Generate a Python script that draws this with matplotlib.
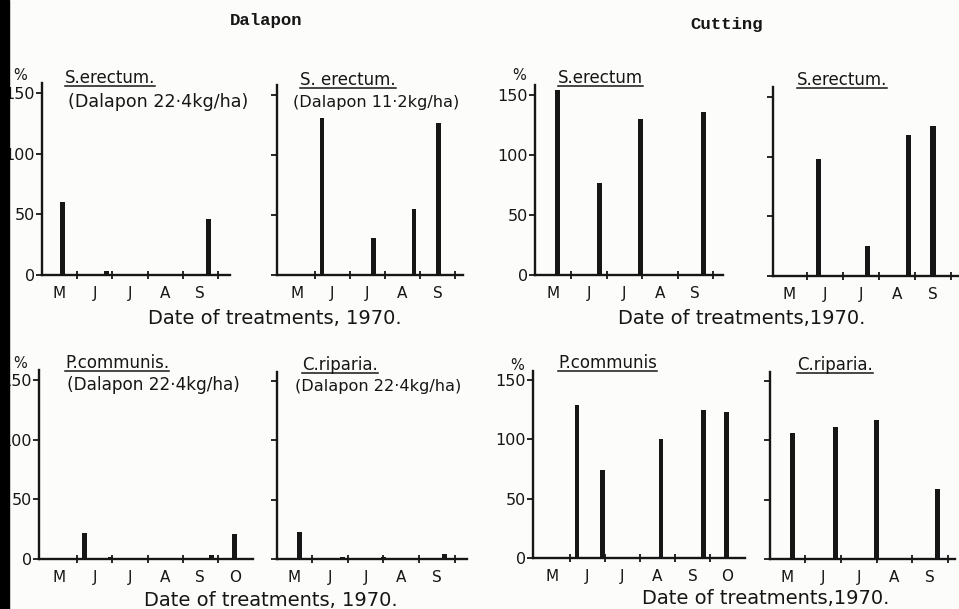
import matplotlib
matplotlib.use("Agg")
import matplotlib.pyplot as plt
from matplotlib.lines import Line2D
from matplotlib.patches import Rectangle

W, H = 959, 609

months5 = ["M", "J", "J", "A", "S"]
months6 = ["M", "J", "J", "A", "S", "O"]
y_ticks = [0, 50, 100, 150]

# treatment dates, in months counted from 1 May 1970
dates_se_dal22 = [0.60, 1.85, 2.99, 4.72]
growth_se_dal22 = [60, 3, 1, 46]
dates_se_dal11 = [1.20, 2.66, 3.83, 4.54]
growth_se_dal11 = [131, 31, 55, 127]
dates_se_cut1 = [0.63, 1.79, 2.97, 4.72]
growth_se_cut1 = [154, 77, 130, 136]
dates_se_cut2 = [1.31, 2.67, 3.83, 4.50]
growth_se_cut2 = [98, 25, 118, 126]
dates_pc = [1.20, 1.94, 3.60, 4.82, 5.47]
growth_pc_dal = [22, 2, 1, 3, 21]
growth_pc_cut = [129, 74, 100, 125, 123]
dates_cr = [0.64, 1.84, 2.99, 4.72]
growth_cr_dal = [23, 2, 2, 4]
growth_cr_cut = [106, 111, 117, 59]

INK = "#161616"
SANS = "DejaVu Sans"

fig = plt.figure(figsize=(W / 100, H / 100), dpi=100, facecolor="#fcfcfa")


def panel(geom, dates, values, months, ylabels):
    # geom: axis left px, first tick px, tick spacing px, axis right px,
    #       zero line px, px of the 150 level
    x0, t1, s, xe, y0, y150 = geom
    scale = (y0 - y150) / 150.0
    ytop = 158
    ax = fig.add_axes([x0 / W, (H - y0) / H, (xe - x0) / W, ytop * scale / H])
    ax.set_facecolor("none")
    ax.set_xlim((x0 - t1) / s + 1, (xe - t1) / s + 1)
    ax.set_ylim(0, ytop)
    for side in ("top", "right"):
        ax.spines[side].set_visible(False)
    for side in ("left", "bottom"):
        ax.spines[side].set_linewidth(1.7)
        ax.spines[side].set_color(INK)
    ax.bar(dates, values, width=0.14, color=INK, align="center", zorder=3)
    ax.set_yticks(y_ticks)
    if ylabels:
        ax.set_yticklabels([str(v) for v in y_ticks], fontsize=11.5,
                           family=SANS, color=INK)
    else:
        ax.set_yticklabels([])
    ax.tick_params(axis="y", direction="out", length=4, width=1.3,
                   color=INK, pad=1)
    ax.set_xticks(range(1, 6))
    ax.set_xticklabels([])
    ax.tick_params(axis="x", which="major", direction="inout", length=6,
                   width=1.3, color=INK)
    ax.set_xticks([i + 0.5 for i in range(len(months))], minor=True)
    ax.set_xticklabels(months, minor=True, fontsize=11, family=SANS,
                       color=INK)
    ax.tick_params(axis="x", which="minor", length=0, pad=8)
    return ax


panel((42, 77, 35.25, 230, 275, 93), dates_se_dal22, growth_se_dal22, months5, True)
panel((277, 315, 35.0, 463, 275, 95), dates_se_dal11, growth_se_dal11, months5, False)
panel((535, 571, 35.5, 723, 275, 95), dates_se_cut1, growth_se_cut1, months5, True)
panel((773, 807, 36.0, 965, 276, 97), dates_se_cut2, growth_se_cut2, months5, False)
panel((39, 77, 35.25, 253, 559, 380), dates_pc, growth_pc_dal, months6, True)
panel((277, 312, 35.75, 467, 559, 381), dates_cr, growth_cr_dal, months5, False)
panel((533, 570, 35.0, 745, 558, 380), dates_pc, growth_pc_cut, months6, True)
panel((770, 805, 35.75, 955, 559, 381), dates_cr, growth_cr_cut, months5, False)


def ftext(x, y, s, **kw):
    kw.setdefault("family", SANS)
    kw.setdefault("color", INK)
    return fig.text(x / W, 1 - y / H, s, **kw)


# section headings
ftext(266, 20, "Dalapon", family="Liberation Mono", fontsize=12.5,
      fontweight="bold", ha="center", va="center")
ftext(727, 24, "Cutting", family="Liberation Mono", fontsize=12.5,
      fontweight="bold", ha="center", va="center")

# species names (underlined) and dosages
species = [
    (65, 78, "S.erectum."),
    (300, 80, "S. erectum."),
    (558, 78, "S.erectum"),
    (797, 80, "S.erectum."),
    (65, 363, "P.communis."),
    (302, 365, "C.riparia."),
    (558, 363, "P.communis"),
    (797, 365, "C.riparia."),
]
doses = [
    (68, 102, "(Dalapon 22·4kg/ha)", 12.6),
    (293, 102, "(Dalapon 11·2kg/ha)", 11.6),
    (67, 385, "(Dalapon 22·4kg/ha)", 12.2),
    (295, 387, "(Dalapon 22·4kg/ha)", 11.6),
]
name_texts = [ftext(x, y, s, fontsize=12, ha="left", va="center")
              for x, y, s in species]
for x, y, s, fs in doses:
    ftext(x, y, s, fontsize=fs, ha="left", va="center")

# percent signs over the labelled axes
for x, y in [(20, 75), (519, 76), (20, 364), (517, 365)]:
    ftext(x, y, "%", fontsize=10.5, ha="center", va="center")

# date captions
for x, y, s in [(275, 318, "Date of treatments, 1970."),
                (742, 318, "Date of treatments,1970."),
                (271, 600, "Date of treatments, 1970."),
                (766, 598, "Date of treatments,1970.")]:
    ftext(x, y, s, fontsize=14, ha="center", va="center")

fig.canvas.draw()
renderer = fig.canvas.get_renderer()
for t in name_texts:
    bb = t.get_window_extent(renderer)
    yy = bb.y0 + 1.5
    fig.add_artist(Line2D([bb.x0 / W, bb.x1 / W], [yy / H, yy / H],
                          transform=fig.transFigure, color=INK, lw=1.1))

# dark binding edge of the page
fig.add_artist(Rectangle((0, 0), 9 / W, 1, transform=fig.transFigure,
                         color="black", zorder=100))

fig.savefig("out.png", dpi=100, facecolor=fig.get_facecolor())
